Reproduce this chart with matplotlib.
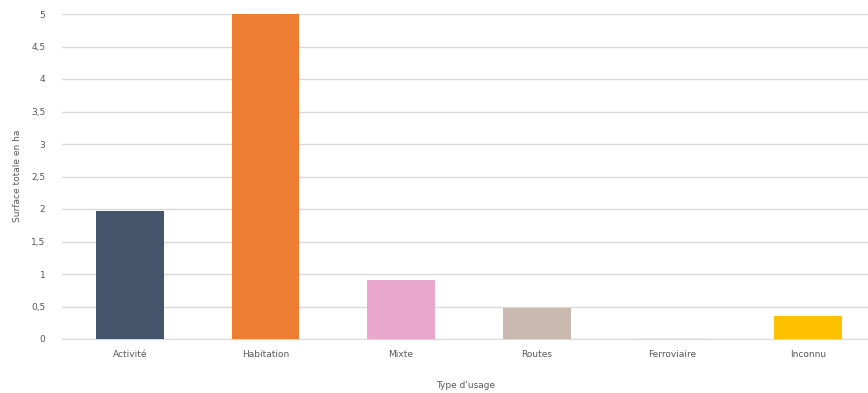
import matplotlib
matplotlib.use("Agg")
import matplotlib.pyplot as plt
from matplotlib.ticker import FuncFormatter

# Surface par type d'usage (ha)
categories = ["Activité", "Habitation", "Mixte", "Routes", "Ferroviaire", "Inconnu"]
surfaces = [1.97, 5.0, 0.91, 0.48, 0.02, 0.35]
colors = ["#44546A", "#ED7D31", "#EAA7CC", "#C9B9AF", "#E6E6E6", "#FFC000"]
y_ticks = [0, 0.5, 1, 1.5, 2, 2.5, 3, 3.5, 4, 4.5, 5]

plt.rcParams["font.family"] = ["DejaVu Sans"]
fig = plt.figure(figsize=(8.68, 3.93), dpi=100)
ax = fig.add_axes([62 / 868, 1 - 339 / 393, 1 - 62 / 868, (339 - 14) / 393])

x = range(len(categories))
ax.bar(x, surfaces, width=0.5, color=colors, zorder=3)

ax.set_ylim(0, 5)
ax.set_xlim(-0.5, (868 - 61) / 135.8 - 0.5)
ax.set_yticks(y_ticks)
ax.yaxis.set_major_formatter(FuncFormatter(lambda v, _: f"{v:g}".replace(".", ",")))
ax.set_xticks(list(x))
ax.set_xticklabels(categories)
ax.grid(axis="y", color="#D9D9D9", linewidth=1, zorder=0)
for s in ["top", "right", "left"]:
    ax.spines[s].set_visible(False)
ax.spines["bottom"].set_color("#D9D9D9")
ax.tick_params(axis="both", length=0, labelsize=6.5, colors="#595959")
ax.tick_params(axis="x", pad=8)
ax.tick_params(axis="y", pad=12)

fig.text(18 / 868, 1 - 176 / 393, "Surface totale en ha", rotation=90,
         ha="center", va="center", fontsize=6.5, color="#595959")
fig.text(466 / 868, 1 - 386 / 393, "Type d'usage",
         ha="center", va="center", fontsize=6.5, color="#595959")

fig.savefig("out.png", dpi=100)
